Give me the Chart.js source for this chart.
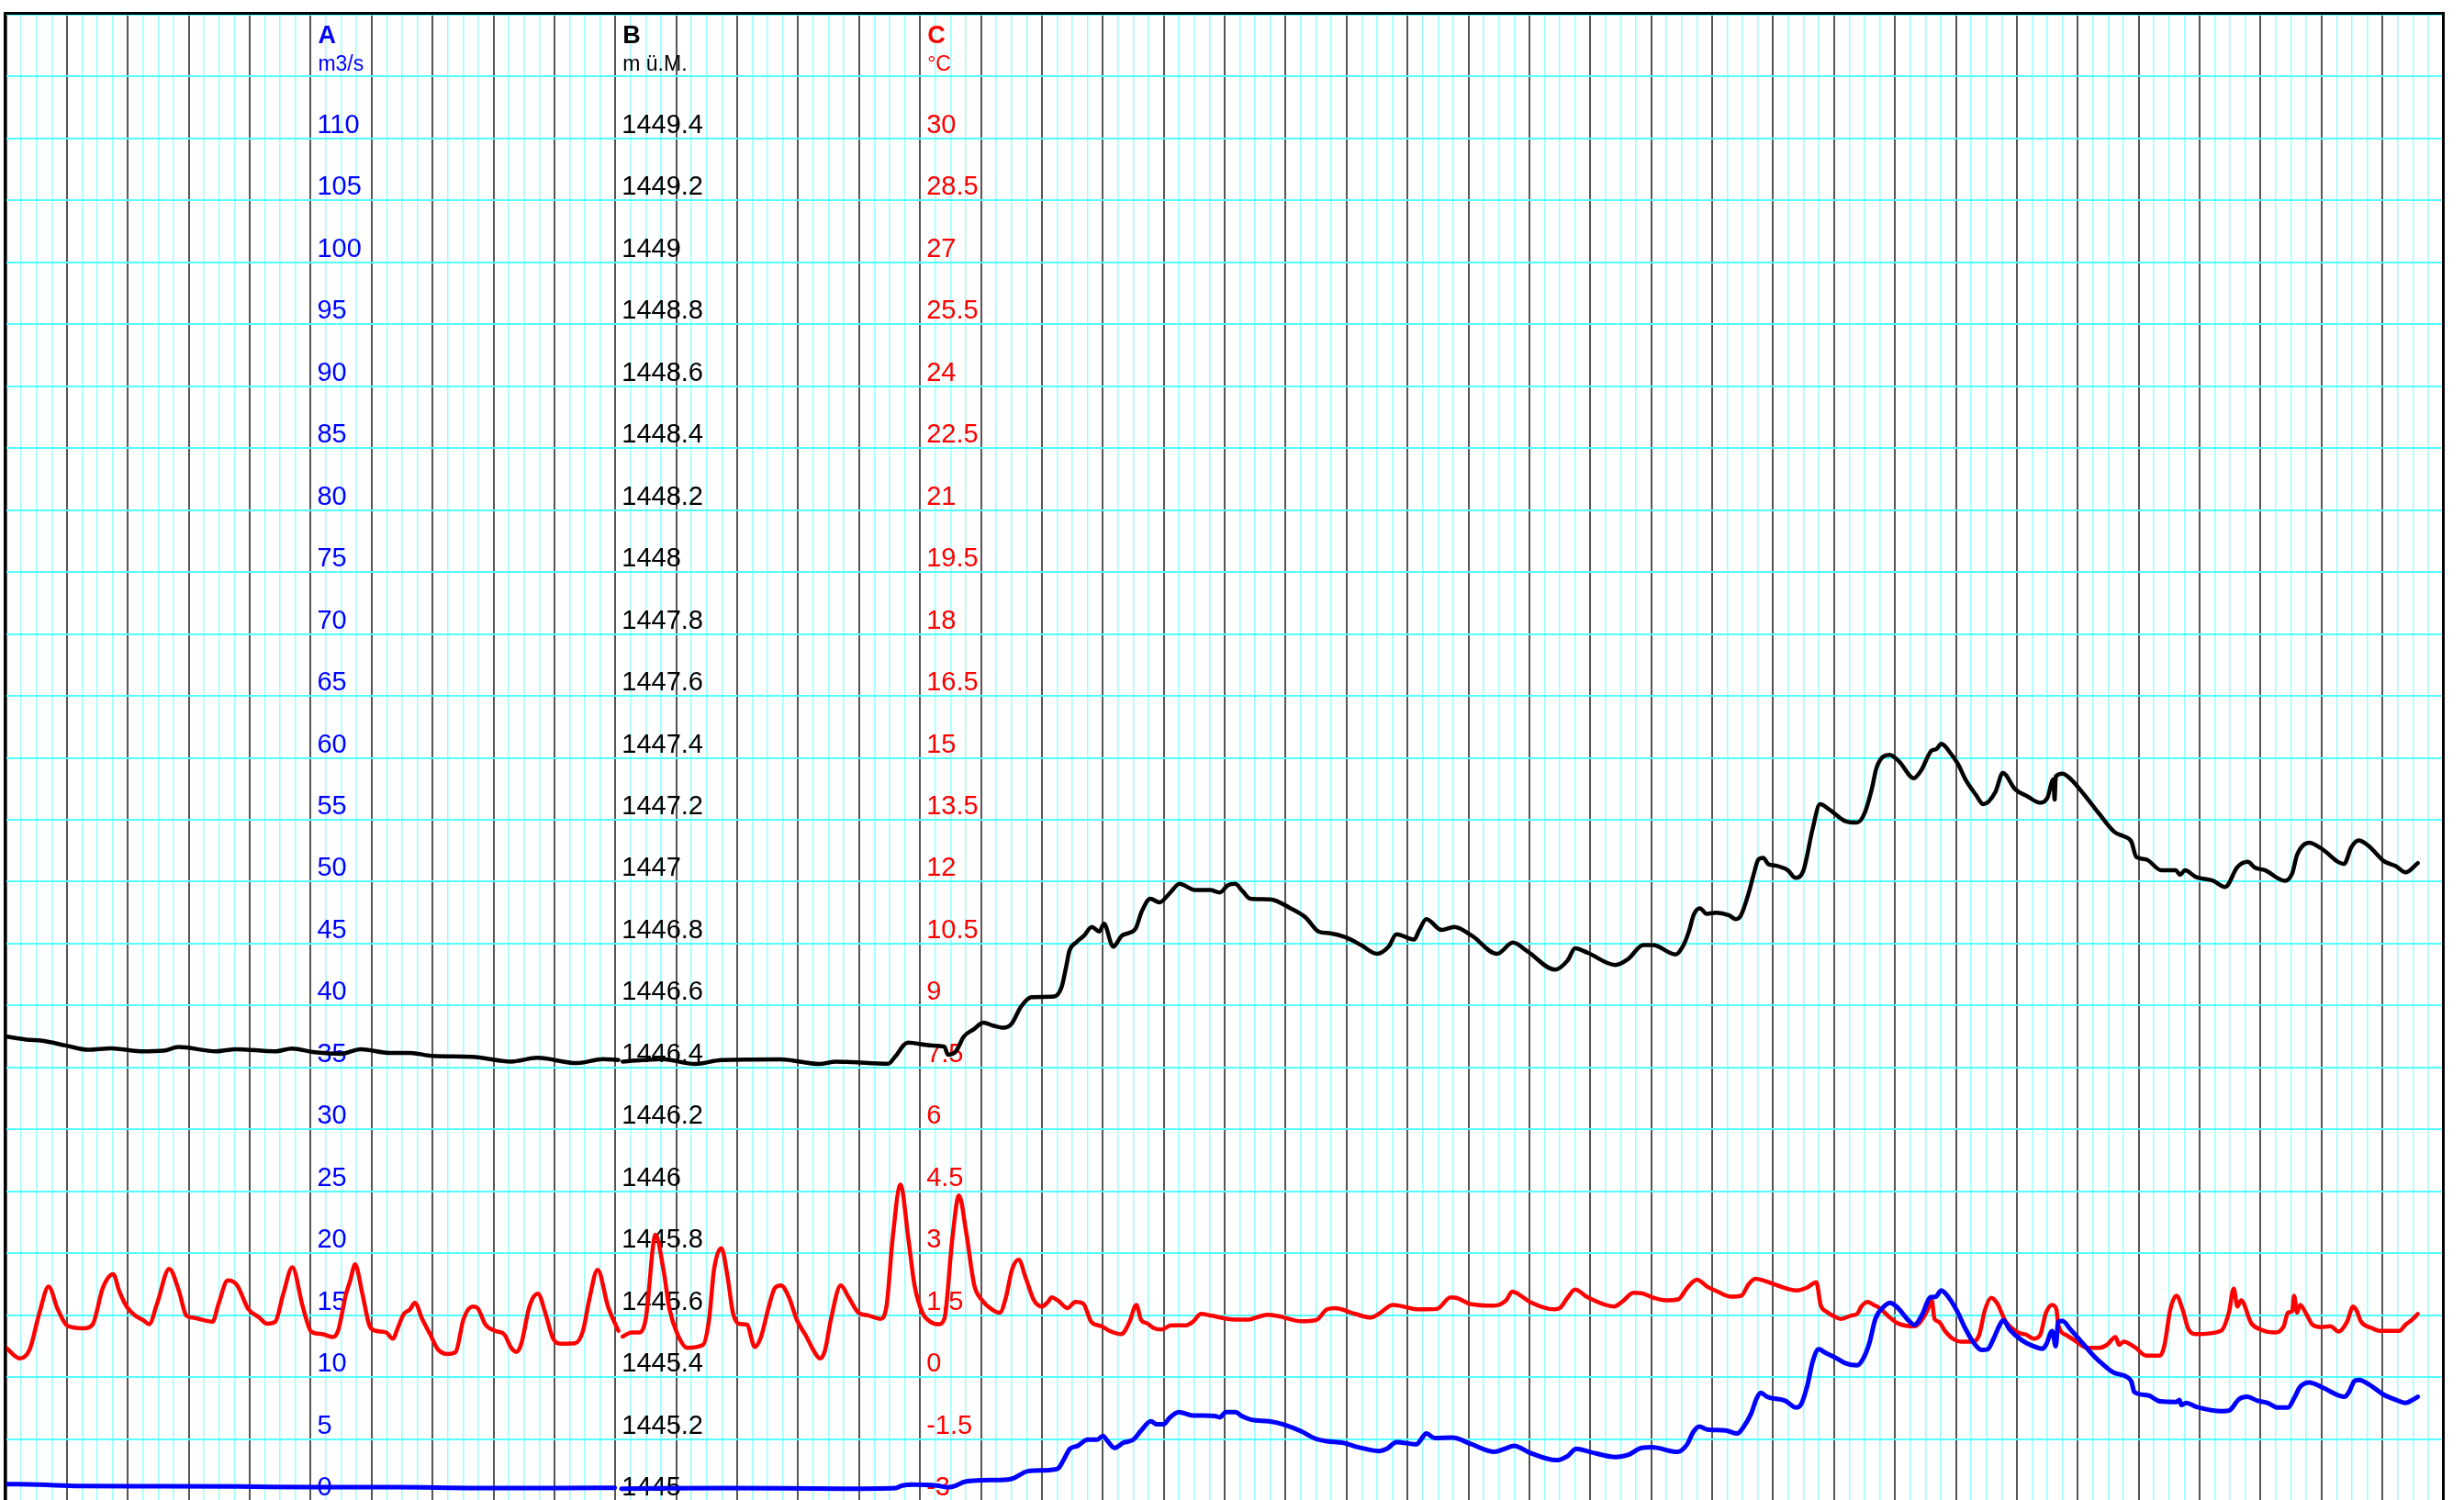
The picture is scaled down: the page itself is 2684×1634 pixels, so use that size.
<!DOCTYPE html>
<html>
<head>
<meta charset="utf-8">
<title>Abfluss, Pegel, Wassertemperatur</title>
<script src="https://cdn.jsdelivr.net/npm/chart.js@4.4.1/dist/chart.umd.min.js"></script>
<style>
  html, body { margin: 0; padding: 0; background: #fff; overflow: hidden; }
  canvas { display: block; }
</style>
</head>
<body>
<canvas id="chart" width="2684" height="1636"></canvas>
<script>
// x = days since start of record (40 days, 6 h sub-grid)

// A: Abfluss m3/s  [day, value]
const flowA = [
  [0.00, 1.36], [0.55, 1.31], [1.20, 1.21], [2.50, 1.19], [3.82, 1.16], [5.10, 1.11],
  [6.40, 1.11], [7.74, 1.04], [9.05, 1.04], [9.99, 1.06], [10.05, null], [10.10, 0.99],
  [11.80, 1.04], [13.76, 0.99], [14.60, 1.04], [14.71, 1.24], [14.87, 1.31], [15.27, 1.24],
  [15.46, 1.11], [15.59, 1.24], [15.72, 1.53], [15.98, 1.66], [16.44, 1.73], [16.54, 1.85],
  [16.77, 2.40], [17.03, 2.47], [17.26, 2.60], [17.36, 3.34], [17.46, 4.20], [17.59, 4.45],
  [17.75, 4.95], [17.91, 4.95], [18.00, 5.24], [18.08, 4.82], [18.19, 4.28], [18.34, 4.70],
  [18.50, 4.95], [18.63, 5.69], [18.79, 6.43], [18.89, 6.18], [19.00, 6.18], [19.09, 6.68],
  [19.25, 7.17], [19.45, 6.92], [19.84, 6.85], [19.92, 6.75], [20.02, 7.17], [20.18, 7.17],
  [20.28, 6.85], [20.44, 6.55], [20.73, 6.43], [20.96, 6.18], [21.26, 5.61], [21.49, 5.02],
  [21.68, 4.82], [21.94, 4.70], [22.20, 4.33], [22.53, 4.03], [22.66, 4.20], [22.82, 4.75],
  [23.15, 4.57], [23.22, 4.95], [23.31, 5.44], [23.45, 5.07], [23.74, 5.12], [24.03, 4.62],
  [24.43, 3.96], [24.59, 4.20], [24.75, 4.45], [25.01, 3.88], [25.44, 3.29], [25.63, 3.63],
  [25.77, 4.20], [25.99, 3.96], [26.42, 3.54], [26.62, 3.71], [26.84, 4.28], [27.01, 4.33],
  [27.43, 3.96], [27.59, 4.57], [27.69, 5.56], [27.79, 6.01], [27.92, 5.76], [28.22, 5.69],
  [28.41, 5.44], [28.51, 5.93], [28.64, 7.05], [28.73, 8.28], [28.80, 8.73], [28.90, 8.41],
  [29.20, 8.09], [29.38, 7.54], [29.46, 7.79], [29.56, 9.27], [29.65, 11.25], [29.75, 12.24],
  [29.85, 11.99], [30.03, 11.55], [30.18, 11.13], [30.38, 10.95], [30.48, 11.50], [30.58, 12.73],
  [30.68, 14.71], [30.82, 15.70], [30.92, 16.00], [31.05, 15.58], [31.22, 14.59], [31.32, 14.22],
  [31.45, 15.08], [31.58, 16.44], [31.67, 16.49], [31.76, 16.99], [31.88, 16.44], [32.02, 15.33],
  [32.15, 13.97], [32.28, 12.86], [32.42, 12.19], [32.52, 12.24], [32.62, 13.11], [32.72, 14.22],
  [32.78, 14.59], [32.88, 13.85], [33.08, 12.98], [33.25, 12.54], [33.42, 12.29], [33.48, 12.61],
  [33.58, 13.72], [33.64, 12.49], [33.68, 14.47], [33.75, 14.52], [33.88, 13.85], [34.08, 12.73],
  [34.28, 11.62], [34.42, 11.00], [34.58, 10.39], [34.82, 9.97], [34.88, 9.64], [34.93, 8.78],
  [35.15, 8.53], [35.35, 8.04], [35.62, 7.99], [35.67, 8.16], [35.70, 7.74], [35.78, 7.91],
  [35.95, 7.59], [36.38, 7.25], [36.48, 7.29], [36.65, 8.23], [36.78, 8.41], [36.95, 8.09],
  [37.12, 7.91], [37.28, 7.54], [37.45, 7.54], [37.55, 8.28], [37.65, 9.22], [37.80, 9.57],
  [38.02, 9.15], [38.38, 8.41], [38.45, 8.78], [38.55, 9.72], [38.62, 9.77], [38.78, 9.40],
  [39.02, 8.58], [39.22, 8.16], [39.38, 7.91], [39.52, 8.23], [39.58, 8.41]
];

// B: Pegel m ü.M.  [day, value]
const levelB = [
  [0.00, 1446.500], [0.33, 1446.490], [0.60, 1446.486], [0.98, 1446.471], [1.35, 1446.457],
  [1.73, 1446.462], [2.21, 1446.452], [2.59, 1446.454], [2.83, 1446.466], [3.45, 1446.452],
  [3.77, 1446.459], [4.42, 1446.452], [4.69, 1446.461], [5.07, 1446.449], [5.50, 1446.444],
  [5.82, 1446.459], [6.30, 1446.447], [6.63, 1446.447], [7.00, 1446.437], [7.65, 1446.434],
  [8.29, 1446.419], [8.72, 1446.431], [9.37, 1446.414], [9.80, 1446.427], [10.05, 1446.424],
  [10.09, null], [10.12, 1446.419], [10.77, 1446.427], [11.31, 1446.411], [11.74, 1446.424],
  [12.71, 1446.426], [13.35, 1446.411], [13.62, 1446.419], [13.89, 1446.417], [14.48, 1446.412],
  [14.59, 1446.434], [14.80, 1446.480], [15.18, 1446.471], [15.40, 1446.467], [15.46, 1446.441],
  [15.59, 1446.452], [15.72, 1446.500], [15.88, 1446.523], [16.04, 1446.545], [16.20, 1446.535],
  [16.37, 1446.528], [16.50, 1446.540], [16.66, 1446.597], [16.83, 1446.627], [17.20, 1446.629],
  [17.32, 1446.657], [17.40, 1446.726], [17.45, 1446.775], [17.57, 1446.805], [17.69, 1446.825],
  [17.82, 1446.854], [17.94, 1446.839], [18.02, 1446.864], [18.17, 1446.790], [18.31, 1446.825],
  [18.44, 1446.835], [18.54, 1446.849], [18.64, 1446.904], [18.78, 1446.945], [18.93, 1446.933],
  [19.10, 1446.963], [19.26, 1446.993], [19.51, 1446.973], [19.76, 1446.973], [19.92, 1446.965],
  [20.05, 1446.988], [20.17, 1446.993], [20.30, 1446.968], [20.42, 1446.945], [20.75, 1446.943],
  [21.08, 1446.914], [21.33, 1446.884], [21.54, 1446.839], [21.74, 1446.833], [21.99, 1446.820],
  [22.24, 1446.795], [22.50, 1446.767], [22.69, 1446.790], [22.82, 1446.830], [23.11, 1446.813],
  [23.19, 1446.842], [23.31, 1446.879], [23.56, 1446.844], [23.77, 1446.854], [24.06, 1446.825],
  [24.47, 1446.767], [24.73, 1446.803], [24.97, 1446.775], [25.42, 1446.716], [25.63, 1446.746],
  [25.75, 1446.785], [25.96, 1446.770], [26.41, 1446.731], [26.62, 1446.750], [26.87, 1446.795],
  [27.03, 1446.795], [27.40, 1446.765], [27.53, 1446.795], [27.62, 1446.840], [27.70, 1446.894],
  [27.80, 1446.914], [27.91, 1446.896], [28.07, 1446.900], [28.27, 1446.892], [28.39, 1446.879],
  [28.47, 1446.890], [28.60, 1446.963], [28.68, 1447.022], [28.76, 1447.072], [28.84, 1447.077],
  [28.92, 1447.057], [29.04, 1447.052], [29.24, 1447.037], [29.37, 1447.012], [29.50, 1447.037],
  [29.65, 1447.171], [29.77, 1447.250], [29.93, 1447.232], [30.18, 1447.196], [30.38, 1447.191],
  [30.50, 1447.220], [30.62, 1447.299], [30.70, 1447.369], [30.91, 1447.410], [31.07, 1447.388],
  [31.31, 1447.334], [31.43, 1447.359], [31.60, 1447.423], [31.68, 1447.428], [31.76, 1447.445],
  [31.92, 1447.413], [32.04, 1447.378], [32.16, 1447.329], [32.33, 1447.280], [32.45, 1447.250],
  [32.65, 1447.290], [32.77, 1447.351], [32.97, 1447.299], [33.18, 1447.275], [33.38, 1447.255],
  [33.50, 1447.270], [33.60, 1447.330], [33.62, 1447.265], [33.64, 1447.340], [33.75, 1447.349],
  [33.87, 1447.334], [34.11, 1447.280], [34.35, 1447.220], [34.60, 1447.161], [34.76, 1447.146],
  [34.88, 1447.129], [34.96, 1447.080], [35.12, 1447.072], [35.37, 1447.037], [35.61, 1447.037],
  [35.68, 1447.022], [35.76, 1447.037], [35.94, 1447.015], [36.22, 1447.003], [36.42, 1446.983],
  [36.62, 1447.047], [36.79, 1447.064], [36.91, 1447.045], [37.07, 1447.037], [37.40, 1447.003],
  [37.52, 1447.027], [37.60, 1447.087], [37.80, 1447.126], [38.00, 1447.107], [38.37, 1447.057],
  [38.49, 1447.111], [38.61, 1447.133], [38.77, 1447.116], [39.02, 1447.067], [39.22, 1447.050],
  [39.38, 1447.030], [39.58, 1447.060]
];

// C: Wassertemperatur °C  [day, value]
const tempC = [
  [0.00, 0.71], [0.23, 0.45], [0.39, 0.67], [0.55, 1.56], [0.70, 2.19], [0.85, 1.64],
  [1.01, 1.24], [1.27, 1.18], [1.42, 1.27], [1.59, 2.16], [1.76, 2.49], [1.86, 2.08],
  [1.98, 1.71], [2.12, 1.49], [2.25, 1.38], [2.35, 1.28], [2.48, 1.78], [2.68, 2.62],
  [2.84, 2.08], [2.96, 1.49], [3.07, 1.44], [3.39, 1.34], [3.49, 1.78], [3.64, 2.34],
  [3.79, 2.23], [3.98, 1.64], [4.15, 1.45], [4.29, 1.29], [4.42, 1.34], [4.55, 2.01],
  [4.70, 2.66], [4.87, 1.71], [5.01, 1.10], [5.19, 1.04], [5.36, 0.97], [5.45, 1.12],
  [5.58, 2.01], [5.65, 2.34], [5.73, 2.73], [5.85, 2.01], [5.97, 1.23], [6.07, 1.12],
  [6.24, 1.08], [6.35, 0.93], [6.43, 1.19], [6.53, 1.53], [6.63, 1.64], [6.71, 1.80],
  [6.83, 1.41], [6.96, 1.04], [7.09, 0.67], [7.25, 0.56], [7.38, 0.61], [7.51, 1.41],
  [7.66, 1.71], [7.74, 1.67], [7.87, 1.27], [8.03, 1.12], [8.18, 1.03], [8.29, 0.71],
  [8.38, 0.61], [8.46, 0.82], [8.59, 1.71], [8.73, 2.02], [8.85, 1.56], [8.98, 0.93],
  [9.11, 0.81], [9.34, 0.82], [9.47, 1.12], [9.57, 1.86], [9.71, 2.60], [9.88, 1.71],
  [10.05, 1.12], [10.09, null], [10.12, 0.98], [10.27, 1.08], [10.40, 1.08], [10.50, 1.41],
  [10.66, 3.45], [10.79, 2.60], [10.89, 1.64], [11.02, 1.04], [11.18, 0.71], [11.44, 0.78],
  [11.54, 1.41], [11.62, 2.60], [11.74, 3.12], [11.84, 2.45], [11.93, 1.56], [12.03, 1.29],
  [12.16, 1.27], [12.29, 0.73], [12.39, 0.97], [12.52, 1.71], [12.62, 2.16], [12.72, 2.22],
  [12.85, 1.93], [12.98, 1.38], [13.14, 0.97], [13.27, 0.60], [13.36, 0.45], [13.44, 0.64],
  [13.54, 1.41], [13.70, 2.22], [13.83, 1.93], [13.99, 1.56], [14.16, 1.49], [14.35, 1.41],
  [14.45, 1.71], [14.55, 3.34], [14.68, 4.66], [14.81, 3.34], [14.91, 2.23], [15.04, 1.56],
  [15.17, 1.34], [15.30, 1.28], [15.40, 1.41], [15.53, 3.34], [15.64, 4.40], [15.76, 3.49],
  [15.89, 2.23], [16.02, 1.86], [16.18, 1.64], [16.31, 1.56], [16.41, 1.93], [16.51, 2.60],
  [16.62, 2.84], [16.74, 2.38], [16.87, 1.86], [17.00, 1.71], [17.10, 1.82], [17.16, 1.93],
  [17.26, 1.86], [17.42, 1.67], [17.55, 1.82], [17.68, 1.78], [17.81, 1.34], [17.98, 1.23],
  [18.11, 1.12], [18.30, 1.04], [18.44, 1.34], [18.55, 1.75], [18.63, 1.38], [18.73, 1.30],
  [18.83, 1.19], [18.96, 1.15], [19.12, 1.25], [19.35, 1.25], [19.48, 1.34], [19.61, 1.53],
  [19.77, 1.49], [20.05, 1.41], [20.37, 1.39], [20.70, 1.51], [20.90, 1.47], [21.26, 1.35],
  [21.50, 1.38], [21.68, 1.64], [21.81, 1.67], [22.14, 1.53], [22.40, 1.44], [22.53, 1.53],
  [22.76, 1.75], [23.18, 1.64], [23.48, 1.65], [23.71, 1.93], [23.80, 1.92], [24.03, 1.77],
  [24.43, 1.73], [24.62, 1.86], [24.72, 2.07], [24.82, 2.01], [25.01, 1.82], [25.41, 1.64],
  [25.50, 1.67], [25.63, 1.93], [25.75, 2.12], [25.96, 1.93], [26.39, 1.71], [26.52, 1.82],
  [26.71, 2.04], [26.84, 2.03], [27.04, 1.92], [27.24, 1.86], [27.44, 1.88], [27.59, 2.16],
  [27.75, 2.36], [27.92, 2.19], [28.09, 2.07], [28.31, 1.95], [28.48, 1.97], [28.59, 2.23],
  [28.71, 2.38], [28.84, 2.34], [29.07, 2.22], [29.39, 2.10], [29.56, 2.17], [29.71, 2.30],
  [29.78, 1.75], [29.88, 1.58], [30.03, 1.45], [30.12, 1.41], [30.28, 1.49], [30.38, 1.53],
  [30.45, 1.71], [30.55, 1.82], [30.65, 1.75], [30.75, 1.67], [30.88, 1.49], [31.05, 1.30],
  [31.32, 1.23], [31.42, 1.34], [31.54, 1.64], [31.60, 1.90], [31.65, 1.41], [31.72, 1.34],
  [31.82, 1.12], [31.95, 0.93], [32.08, 0.86], [32.28, 0.86], [32.38, 1.01], [32.48, 1.64],
  [32.58, 1.92], [32.68, 1.78], [32.82, 1.34], [33.02, 1.08], [33.15, 1.03], [33.28, 0.93],
  [33.38, 1.01], [33.48, 1.56], [33.58, 1.75], [33.65, 1.64], [33.68, 1.27], [33.82, 1.01],
  [33.95, 0.89], [34.15, 0.71], [34.35, 0.71], [34.48, 0.78], [34.62, 0.97], [34.68, 0.78],
  [34.75, 0.86], [34.95, 0.71], [35.12, 0.52], [35.35, 0.52], [35.42, 0.75], [35.52, 1.64],
  [35.62, 1.97], [35.72, 1.64], [35.82, 1.15], [35.95, 1.04], [36.35, 1.12], [36.48, 1.56],
  [36.56, 2.14], [36.62, 1.71], [36.68, 1.86], [36.85, 1.30], [37.02, 1.14], [37.22, 1.08],
  [37.38, 1.23], [37.45, 1.56], [37.52, 1.60], [37.55, 1.97], [37.60, 1.56], [37.65, 1.75],
  [37.75, 1.53], [37.85, 1.27], [37.98, 1.21], [38.15, 1.23], [38.28, 1.10], [38.42, 1.34],
  [38.52, 1.71], [38.58, 1.60], [38.65, 1.34], [38.82, 1.19], [38.95, 1.12], [39.28, 1.12],
  [39.38, 1.27], [39.48, 1.38], [39.58, 1.53]
];

// tick labels of the three axes
const ticksA = [0, 5, 10, 15, 20, 25, 30, 35, 40, 45, 50, 55, 60, 65, 70, 75, 80, 85, 90, 95, 100, 105, 110];
const ticksB = [1445, 1445.2, 1445.4, 1445.6, 1445.8, 1446, 1446.2, 1446.4, 1446.6, 1446.8, 1447, 1447.2,
                1447.4, 1447.6, 1447.8, 1448, 1448.2, 1448.4, 1448.6, 1448.8, 1449, 1449.2, 1449.4];
const ticksC = [-3, -1.5, 0, 1.5, 3, 4.5, 6, 7.5, 9, 10.5, 12, 13.5, 15, 16.5, 18, 19.5, 21, 22.5, 24,
                25.5, 27, 28.5, 30];
const axisNames = ['A', 'B', 'C'];
const axisUnits = ['m3/s', 'm ü.M.', '°C'];

const FONT = '"Liberation Sans", Arial, sans-serif';
const axisIds = ['yA', 'yB', 'yC'];
const axisColors = { yA: '#0000ff', yB: '#000000', yC: '#ff0000' };
const anchorDay = { yA: 5, yB: 10, yC: 15 }; // axes sit on these day lines

function pairs(list) {
  return list.map(([x, y]) => ({ x, y }));
}

// no width and no label padding, so the plot area stays full size
function noRoom(s) {
  s.width = 0;
  s.paddingTop = 0;
  s.paddingBottom = 0;
  s.paddingLeft = 0;
  s.paddingRight = 0;
}

function valueAxis(min, max, labels, color) {
  return {
    type: 'linear',
    position: 'right',
    min: min,
    max: max,
    afterBuildTicks: s => { s.ticks = labels.map(v => ({ value: v })); },
    afterFit: noRoom,
    grid: { display: false, drawTicks: false },
    border: { display: false },
    ticks: {
      color: color,
      padding: 7,
      labelOffset: -14,
      autoSkip: false,
      font: { family: FONT, size: 29 },
      callback: v => String(v)
    }
  };
}

// move the value axes onto their day line inside the plot
const anchorAxes = {
  id: 'anchorAxes',
  afterLayout(chart) {
    const x = chart.scales.x;
    axisIds.forEach(id => {
      const px = x.getPixelForValue(anchorDay[id]);
      chart.scales[id].left = px;
      chart.scales[id].right = px + 160;
    });
  }
};

const axisTitles = {
  id: 'axisTitles',
  afterDraw(chart) {
    const { ctx } = chart;
    const x = chart.scales.x;
    axisIds.forEach((id, i) => {
      const px = x.getPixelForValue(anchorDay[id]) + 8;
      ctx.save();
      ctx.fillStyle = axisColors[id];
      ctx.textAlign = 'left';
      ctx.textBaseline = 'alphabetic';
      ctx.font = 'bold 27px ' + FONT;
      ctx.fillText(axisNames[i], px, 47);
      ctx.font = '23px ' + FONT;
      ctx.fillText(axisUnits[i], px, 77);
      ctx.restore();
    });
  }
};

const frame = {
  id: 'frame',
  afterDraw(chart) {
    const { ctx, chartArea: a } = chart;
    ctx.save();
    ctx.strokeStyle = '#000';
    ctx.lineWidth = 3;
    ctx.beginPath();
    ctx.moveTo(a.left - 1, a.bottom);
    ctx.lineTo(a.left - 1, a.top - 1.5);
    ctx.lineTo(a.right, a.top - 1.5);
    ctx.lineTo(a.right, a.bottom);
    ctx.stroke();
    ctx.restore();
  }
};

const lineStyle = {
  pointRadius: 0,
  fill: false,
  spanGaps: false,
  cubicInterpolationMode: 'monotone',
  borderJoinStyle: 'round',
  borderCapStyle: 'round'
};

const isDayLine = c => c.tick && Math.abs(c.tick.value % 1) < 1e-6;

new Chart(document.getElementById('chart'), {
  type: 'line',
  data: {
    datasets: [
      { ...lineStyle, label: 'A', data: pairs(flowA), yAxisID: 'yA', borderColor: '#0000ff', borderWidth: 5 },
      { ...lineStyle, label: 'C', data: pairs(tempC), yAxisID: 'yC', borderColor: '#ff0000', borderWidth: 4.5 },
      { ...lineStyle, label: 'B', data: pairs(levelB), yAxisID: 'yB', borderColor: '#000000', borderWidth: 4.5 }
    ]
  },
  options: {
    responsive: false,
    animation: false,
    devicePixelRatio: 1,
    layout: { padding: { left: 6.5, right: 22.5, top: 16, bottom: 1 } },
    plugins: { legend: { display: false }, tooltip: { enabled: false } },
    scales: {
      x: {
        type: 'linear',
        min: 0,
        max: 40,
        afterFit: s => { s.height = 0; s.paddingLeft = 0; s.paddingRight = 0; },
        ticks: { display: false, stepSize: 0.25 },
        border: { display: false },
        grid: {
          drawTicks: false,
          lineWidth: c => isDayLine(c) ? 2 : 1.5,
          color: c => isDayLine(c) ? '#555555' : '#99ffff'
        }
      },
      yGrid: {
        type: 'linear',
        position: 'left',
        min: 0,
        max: 120,
        afterFit: noRoom,
        ticks: { display: false, stepSize: 5 },
        border: { display: false },
        grid: { drawTicks: false, lineWidth: 2, color: '#55ffff' }
      },
      yA: valueAxis(0, 120, ticksA, axisColors.yA),
      yB: valueAxis(1445, 1449.8, ticksB, axisColors.yB),
      yC: valueAxis(-3, 33, ticksC, axisColors.yC)
    }
  },
  plugins: [anchorAxes, axisTitles, frame]
});
</script>
</body>
</html>
